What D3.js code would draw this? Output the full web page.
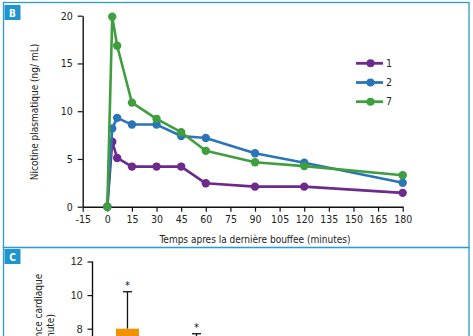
<!DOCTYPE html>
<html><head><meta charset="utf-8">
<script src="https://cdn.jsdelivr.net/npm/d3@7"></script>
<style>
html,body{margin:0;padding:0;background:#fff;}
svg{display:block;font-family:"DejaVu Sans Condensed","DejaVu Sans",sans-serif;}
</style></head>
<body>
<script>
// ---- Panel B data ----
const times = [0, 3, 6, 15, 30, 45, 60, 90, 120, 180];
const seriesNames = ["1", "2", "7"];
const serie1 = [0, 6.8, 5.1, 4.2, 4.2, 4.2, 2.45, 2.1, 2.1, 1.45];
const serie2 = [0, 8.2, 9.3, 8.6, 8.6, 7.4, 7.2, 5.6, 4.6, 2.5];
const serie7 = [0, 19.9, 16.85, 10.9, 9.2, 7.8, 5.85, 4.65, 4.25, 3.3];
const xTicks = [-15, 0, 15, 30, 45, 60, 75, 90, 105, 120, 135, 150, 165, 180];
const yTicks = [0, 5, 10, 15, 20];
const xTitle = "Temps apres la dernière bouffee (minutes)";
const yTitle = "Nicotine plasmatique (ng/ mL)";
// ---- Panel C data ----
const barCats = ["a", "b"];
const barValues = [8, 6.9];
const barErrors = [2.2, 0.8];
const cTicks = [8, 10, 12];
const cTitle1 = "Augmentation de la fréquence cardiaque";
const cTitle2 = "(battements/minute)";

const colors = ["#6b2a8c", "#2b74b8", "#3f9f3f"];
const frame = "#2a9bd4";
const fmt = d => String(d).replace("\u2212", "-");

const W = 473, H = 336;
const svg = d3.select("body").append("svg").attr("width", W).attr("height", H);

// panel frames
svg.append("rect").attr("x", 3.5).attr("y", 2.5).attr("width", 465.5).attr("height", 245)
  .attr("fill", "none").attr("stroke", frame).attr("stroke-width", 1.3);
svg.append("rect").attr("x", 3.5).attr("y", 247.5).attr("width", 465.5).attr("height", 120)
  .attr("fill", "none").attr("stroke", frame).attr("stroke-width", 1.3);

function panelLabel(x, y, t) {
  svg.append("rect").attr("x", x).attr("y", y).attr("width", 16).attr("height", 15).attr("fill", "#1e94d0");
  svg.append("text").attr("x", x + 8).attr("y", y + 11.5).attr("text-anchor", "middle")
    .attr("fill", "#fff").attr("font-size", 10).attr("font-weight", "bold").text(t);
}
panelLabel(4.5, 5, "B");
panelLabel(4.5, 249, "C");

// ---- Panel B ----
const x = d3.scaleLinear().domain([-15, 180]).range([82.7, 402.7]);
const y = d3.scaleLinear().domain([0, 20]).range([206.7, 15.7]);

const gx = svg.append("g").attr("transform", `translate(0,${y(0)})`)
  .call(d3.axisBottom(x).tickValues(xTicks).tickFormat(fmt).tickSize(5).tickSizeOuter(0).tickPadding(4));
const gy = svg.append("g").attr("transform", `translate(${x(-15)},0)`)
  .call(d3.axisLeft(y).tickValues(yTicks).tickFormat(fmt).tickSize(5).tickSizeOuter(0).tickPadding(5));
[gx, gy].forEach(g => {
  g.select(".domain").attr("stroke", "#111").attr("stroke-width", 1.4);
  g.selectAll(".tick line").attr("stroke", "#111").attr("stroke-width", 1.2);
  g.selectAll(".tick text").attr("font-size", 10.5).attr("fill", "#222")
    .attr("font-family", "DejaVu Sans Condensed, sans-serif");
});

svg.append("text").attr("x", 255).attr("y", 243).attr("text-anchor", "middle")
  .attr("font-size", 10).attr("fill", "#222").text(xTitle);
svg.append("text").attr("transform", `translate(38,112) rotate(-90)`).attr("text-anchor", "middle")
  .attr("font-size", 10).attr("fill", "#222").text(yTitle);

const allSeries = [serie1, serie2, serie7];
const line = d3.line().x((d, i) => x(times[i])).y(d => y(d));
allSeries.forEach((s, k) => {
  const g = svg.append("g");
  g.append("path").datum(s).attr("d", line).attr("fill", "none")
    .attr("stroke", colors[k]).attr("stroke-width", 2.6).attr("stroke-linejoin", "round");
  g.selectAll("circle").data(s).join("circle")
    .attr("cx", (d, i) => x(times[i])).attr("cy", d => y(d)).attr("r", 4.2).attr("fill", colors[k]);
});

// legend
const lg = svg.append("g");
seriesNames.forEach((n, k) => {
  const ly = 63.3 + k * 19.2;
  lg.append("line").attr("x1", 356).attr("x2", 383).attr("y1", ly).attr("y2", ly)
    .attr("stroke", colors[k]).attr("stroke-width", 2.8);
  lg.append("circle").attr("cx", 370.5).attr("cy", ly).attr("r", 4).attr("fill", colors[k]);
  lg.append("text").attr("x", 386).attr("y", ly + 3.6).attr("font-size", 10.5).attr("fill", "#222").text(n);
});

// ---- Panel C ----
const yc = d3.scaleLinear().domain([8, 12]).range([328.7, 261.5]);
const xc = d3.scaleBand().domain(barCats).range([81.5, 242.5]).paddingInner(0.667).paddingOuter(0.5);
const gyc = svg.append("g").attr("transform", `translate(92.5,0)`)
  .call(d3.axisLeft(yc).tickValues(cTicks).tickFormat(d3.format("d")).tickSize(5).tickSizeOuter(0).tickPadding(5));
gyc.select(".domain").attr("stroke", "#111").attr("stroke-width", 1.4).attr("d", `M0,${yc(12)}V${H + 20}`);
gyc.selectAll(".tick line").attr("stroke", "#111").attr("stroke-width", 1.2);
gyc.selectAll(".tick text").attr("font-size", 10.5).attr("fill", "#222");

svg.append("text").attr("transform", `translate(42,366) rotate(-90)`).attr("text-anchor", "middle")
  .attr("font-size", 10).attr("fill", "#222").text(cTitle1);
svg.append("text").attr("transform", `translate(54,361) rotate(-90)`).attr("text-anchor", "middle")
  .attr("font-size", 10).attr("fill", "#222").text(cTitle2);

const barColors = ["#f39200", "#f39200"];
barCats.forEach((c, i) => {
  const cx = xc(c) + xc.bandwidth() / 2;
  const top = yc(barValues[i] + barErrors[i]);
  svg.append("line").attr("x1", cx).attr("x2", cx).attr("y1", top).attr("y2", yc(barValues[i]))
    .attr("stroke", "#111").attr("stroke-width", 1.3);
  svg.append("line").attr("x1", cx - 4.5).attr("x2", cx + 4.5).attr("y1", top).attr("y2", top)
    .attr("stroke", "#111").attr("stroke-width", 1.3);
  svg.append("rect").attr("x", xc(c)).attr("y", yc(barValues[i])).attr("width", xc.bandwidth())
    .attr("height", H + 20 - yc(barValues[i])).attr("fill", barColors[i]);
  svg.append("text").attr("x", cx).attr("y", top - 3).attr("text-anchor", "middle")
    .attr("font-size", 11).attr("fill", "#111").text("*");
});
</script>
</body></html>
